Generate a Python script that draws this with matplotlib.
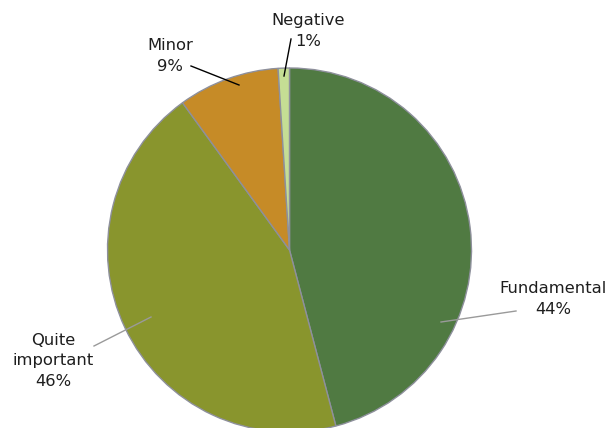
import matplotlib
matplotlib.use('Agg')
import matplotlib.pyplot as plt

# slices, clockwise from 12 o'clock (sizes)
categories = ['Fundamental', 'Quite important', 'Minor', 'Negative']
values = [45.9, 44.1, 9.0, 1.0]
pct_labels = ['44%', '46%', '9%', '1%']  # as printed on the chart
colors = ['#507A42', '#89952D', '#C68B27', '#C5DE94']

fig = plt.figure(figsize=(6.12, 4.28), dpi=100)
ax = fig.add_axes([0, 0, 1, 1])

ax.pie(values, colors=colors, startangle=90, counterclock=False,
       center=(289.5, 178), radius=182, frame=True,
       wedgeprops=dict(edgecolor='#8E909C', linewidth=1))
ax.set_xlim(0, 612)
ax.set_ylim(0, 428)
ax.set_aspect('equal')
ax.axis('off')

# label text position, leader line (point on slice, end near text), line colour
label_pos = [(553, 129), (53, 67), (170, 372), (308, 397)]
line_from = [(441, 106), (151, 111), (239, 343), (284, 352)]
line_to = [(516, 117), (94, 82), (191, 362), (291, 389)]
line_col = ['#9A9A9A', '#9A9A9A', '#000000', '#000000']

for i, name in enumerate(categories):
    txt = name.replace('Quite important', 'Quite\nimportant') + '\n' + pct_labels[i]
    ax.text(label_pos[i][0], label_pos[i][1], txt, ha='center', va='center',
            fontsize=11.8, color='#1E1E1E', linespacing=1.45)
    ax.plot([line_from[i][0], line_to[i][0]], [line_from[i][1], line_to[i][1]],
            color=line_col[i], linewidth=1)

fig.savefig('out.png', dpi=100)
